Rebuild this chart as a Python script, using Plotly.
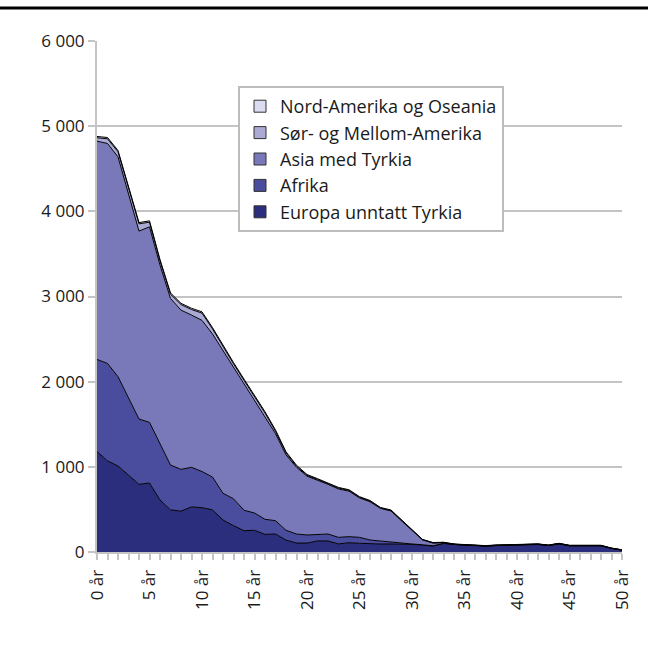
import plotly.graph_objects as go

years = list(range(51))
tick_years = list(range(0, 51, 5))
tick_labels = [f"{y} år" for y in tick_years]
y_ticks = [0, 1000, 2000, 3000, 4000, 5000, 6000]
y_tick_labels = ["0", "1 000", "2 000", "3 000", "4 000", "5 000", "6 000"]

europa = [1180, 1070, 1010, 900, 795, 810, 610, 495, 480, 530,
          520, 495, 375, 310, 250, 255, 207, 211, 140, 105,
          105, 130, 129, 95, 109, 102, 95, 94, 94, 94,
          90, 82, 70, 100, 85, 78, 75, 68, 75, 78,
          88, 92, 88, 75, 95, 72, 72, 72, 72, 42, 22]
afrika = [1081, 1144, 1048, 904, 766, 712, 665, 526, 490, 464,
          425, 385, 314, 315, 240, 203, 177, 157, 115, 106,
          95, 77, 82, 77, 71, 70, 46, 35, 23, 6,
          4, 3, 2, 2, 2, 2, 2, 2, 2, 2,
          2, 2, 2, 2, 2, 2, 2, 2, 2, 1, 1]
asia = [2563, 2583, 2582, 2406, 2207, 2296, 2094, 1956, 1870, 1788,
        1775, 1680, 1676, 1550, 1490, 1337, 1216, 1022, 885, 784,
        690, 638, 584, 568, 535, 463, 449, 383, 365, 266,
        156, 57, 33, 8, 3, 2, 2, 2, 2, 2,
        2, 2, 2, 2, 2, 2, 2, 2, 2, 1, 1]
sor = [40, 55, 60, 65, 85, 55, 50, 50, 65, 65,
       85, 60, 45, 35, 35, 35, 32, 28, 22, 12,
       10, 8, 8, 10, 8, 7, 7, 5, 5, 4,
       3, 3, 3, 2, 2, 1, 1, 1, 1, 1,
       1, 1, 1, 1, 1, 1, 1, 1, 1, 1, 1]
nord = [15, 15, 15, 15, 15, 15, 15, 15, 15, 15,
        15, 15, 15, 15, 15, 15, 15, 15, 15, 12,
        10, 8, 8, 8, 8, 8, 8, 6, 6, 5,
        4, 3, 3, 3, 2, 2, 2, 2, 2, 2,
        2, 2, 2, 2, 2, 2, 2, 2, 2, 1, 1]

series = [
    ("Europa unntatt Tyrkia", europa, "#2b2e7c"),
    ("Afrika", afrika, "#4a4d9e"),
    ("Asia med Tyrkia", asia, "#7979b9"),
    ("Sør- og Mellom-Amerika", sor, "#aaaad5"),
    ("Nord-Amerika og Oseania", nord, "#dcdcf0"),
]

fig = go.Figure()
for name, vals, col in series:
    fig.add_trace(go.Scatter(
        x=years, y=vals, name=name, mode="lines",
        stackgroup="one", fillcolor=col,
        line=dict(color="black", width=1),
        showlegend=False, legendgroup=name,
    ))
# legend-only entries with square swatches
for name, vals, col in series:
    fig.add_trace(go.Scatter(
        x=[None], y=[None], name=name, mode="markers",
        marker=dict(symbol="square", size=12, color=col,
                    line=dict(color="#333333", width=1)),
        legendgroup=name,
    ))

font_family = "Open Sans, DejaVu Sans, sans-serif"
fig.update_layout(
    width=648, height=648,
    margin=dict(l=97, r=26, t=41, b=96),
    paper_bgcolor="white", plot_bgcolor="white",
    font=dict(family=font_family, size=17, color="#1a1a1a"),
    showlegend=True,
    legend=dict(
        traceorder="reversed",
        x=(238 - 97) / 525, y=(552 - 86) / 511, xanchor="left", yanchor="top",
        bgcolor="white", bordercolor="#bdbdbd", borderwidth=2,
        font=dict(size=18, color="#1a1a1a"), itemwidth=30,
        tracegroupgap=0,
    ),
    xaxis=dict(
        range=[0, 50], tickvals=tick_years, ticktext=tick_labels,
        tickangle=-90, showgrid=False, zeroline=False,
        showline=True, linecolor="#c4c4c4", linewidth=2,
        ticks="outside", ticklen=6, tickwidth=2, tickcolor="#c4c4c4",
        minor=dict(dtick=1, ticks="outside", ticklen=6, tickwidth=2, tickcolor="#c4c4c4"),
        tickfont=dict(size=17), ticklabelstandoff=3,
    ),
    yaxis=dict(
        range=[0, 6000], tickvals=y_ticks, ticktext=y_tick_labels,
        showgrid=True, gridcolor="#c4c4c4", gridwidth=2, zeroline=False,
        showline=True, linecolor="#c4c4c4", linewidth=2,
        ticks="outside", ticklen=7, tickwidth=2, tickcolor="#c4c4c4",
        tickfont=dict(size=17),
    ),
    shapes=[dict(type="line", xref="paper", yref="paper",
                 x0=-97/525, x1=1 + 26/525, y0=1 + 33/511, y1=1 + 33/511,
                 line=dict(color="black", width=3))],
)

fig.write_html("out.html", config={"displayModeBar": False},
               post_script="document.body.style.margin='0';")
